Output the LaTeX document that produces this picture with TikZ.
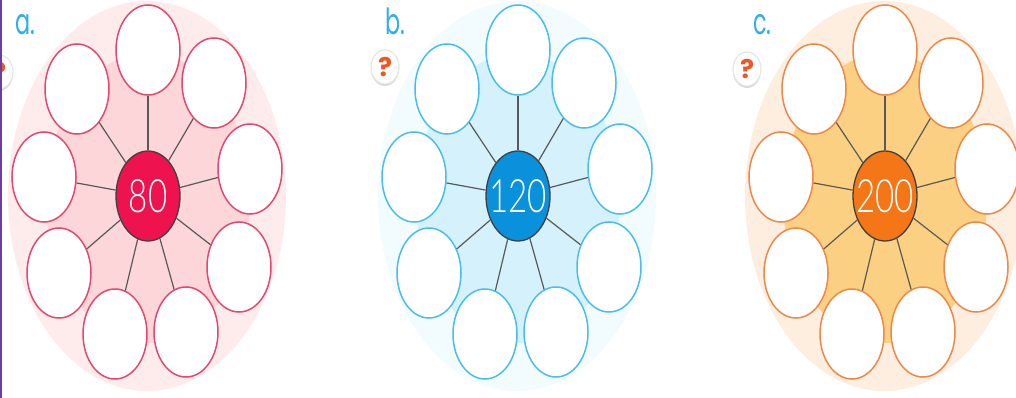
\documentclass[tikz,border=0pt]{standalone}
\usepackage{fontspec}
\usetikzlibrary{shapes.geometric,shadows}
\setmainfont{Poppins}
\newfontfamily\digitfont[FakeStretch=0.72]{Lato Light}
\newfontfamily\letterfont[FakeStretch=0.62]{Poppins}
\definecolor{ruleviolet}{RGB}{110,60,160}
\definecolor{letterblue}{RGB}{50,175,235}
\definecolor{askorange}{RGB}{240,85,35}
\definecolor{redpale}{RGB}{254,236,236}
\definecolor{redmid}{RGB}{252,214,216}
\definecolor{redring}{RGB}{232,70,110}
\definecolor{redhub}{RGB}{238,18,78}
\definecolor{bluepale}{RGB}{242,251,254}
\definecolor{bluemid}{RGB}{213,241,252}
\definecolor{bluering}{RGB}{70,190,240}
\definecolor{bluehub}{RGB}{10,145,220}
\definecolor{orangepale}{RGB}{254,238,224}
\definecolor{orangemid}{RGB}{252,208,130}
\definecolor{orangering}{RGB}{240,135,70}
\definecolor{orangehub}{RGB}{245,118,22}
\tikzstyle{petal} = [draw, fill=white, line width=1.5pt, ellipse, inner sep=0pt,
    minimum width=64pt, minimum height=90pt]
\tikzstyle{hub} = [draw=black!75, line width=1.3pt, ellipse, inner sep=0pt,
    minimum width=64pt, minimum height=90pt, text=white,
    font=\digitfont\fontsize{46}{46}\selectfont]
\tikzstyle{spoke} = [draw=black!65, line width=1.2pt]
\tikzstyle{wheelletter} = [text=letterblue, inner sep=0pt, anchor=base west,
    font=\letterfont\fontsize{36}{36}\selectfont]
\tikzstyle{askbadge} = [draw=black!10, fill=white, line width=1.2pt, ellipse, inner sep=0pt,
    minimum width=28pt, minimum height=34pt, text=askorange,
    drop shadow={shadow xshift=0pt, shadow yshift=-2pt, fill=black!30},
    font=\bfseries\fontsize{26}{26}\selectfont]
\newcommand{\wheel}[7]{%
    \begin{scope}[xshift=#2pt]
        \node [ellipse, fill=#3, minimum width=278pt, minimum height=390pt, inner sep=0pt] (#1back) at (147,196) {};
        \node [ellipse, fill=#4, minimum width=204pt, minimum height=290pt, inner sep=0pt] (#1mid) at (148,198) {};
        \node [hub, fill=#6] (#1hub) at (148,196) {\makebox[0pt]{#7}};
        \foreach \n/\px/\py in {1/148/50, 2/214/83, 3/250/169, 4/239/267, 5/186/332,
                6/115/334, 7/59/273, 8/44/177, 9/77/89}{
            \node [petal, draw=#5] (#1\n) at (\px,\py) {};
            \draw [spoke] (#1hub) -- (#1\n);
        }
    \end{scope}
}

\begin{document}
\begin{tikzpicture}[x=1pt, y=-1pt]
    \useasboundingbox (0,0) rectangle (1016,398);
    \clip (0,0) rectangle (1016,398);
    \wheel{a}{0}{redpale}{redmid}{redring}{redhub}{80}
    \wheel{b}{370}{bluepale}{bluemid}{bluering}{bluehub}{120}
    \wheel{c}{737}{orangepale}{orangemid}{orangering}{orangehub}{200}
    % labels
    \node [wheelletter] (alabel) at (15,35) {a.};
    \node [wheelletter] (blabel) at (385,35) {b.};
    \node [wheelletter] (clabel) at (753,35) {c.};
    \node [askbadge] (askA) at (-1,72) {?};
    \node [askbadge] (askB) at (385,67) {?};
    \node [askbadge] (askC) at (747,69) {?};
    \fill [ruleviolet] (0,0) rectangle (2,398);
\end{tikzpicture}
\end{document}
